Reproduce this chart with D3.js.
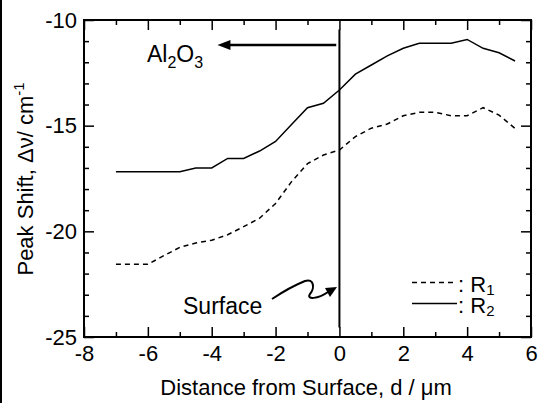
<!DOCTYPE html>
<html>
<head>
<meta charset="utf-8">
<script src="https://cdn.jsdelivr.net/npm/d3@7"></script>
<style>
  body { margin: 0; background: #fff; }
  svg { display: block; font-family: Arial, "Liberation Sans", sans-serif; }
</style>
</head>
<body>
<svg></svg>
<script>
// data
var depth = [-7, -6.5, -6, -5.5, -5, -4.5, -4, -3.5, -3, -2.5, -2, -1.5, -1, -0.5,
             0, 0.5, 1, 1.5, 2, 2.5, 3, 3.5, 4, 4.5, 5, 5.5];
var r1 = [-21.56, -21.56, -21.56, -21.15, -20.76, -20.55, -20.42, -20.16, -19.78, -19.38,
          -18.68, -17.65, -16.80, -16.39, -16.15, -15.52, -15.12, -14.92, -14.53, -14.37,
          -14.37, -14.53, -14.53, -14.15, -14.50, -15.13];
var r2 = [-17.18, -17.18, -17.18, -17.18, -17.18, -17.0, -17.0, -16.55, -16.55, -16.2,
          -15.75, -14.95, -14.15, -13.94, -13.31, -12.56, -12.13, -11.70, -11.34, -11.10,
          -11.10, -11.10, -10.92, -11.34, -11.55, -11.94];
var xMajor = [-8, -6, -4, -2, 0, 2, 4, 6];
var xMinor = [-7, -5, -3, -1, 1, 3, 5];
var yMajor = [-25, -20, -15, -10];
var yMinor = d3.range(-24, -10).filter(d => d % 5 !== 0);

var width = 539;
var height = 403;
var padL = 84, padR = 531, padT = 20, padB = 337;

var svg = d3.select('svg')
    .attr('width', width)
    .attr('height', height);

var xScale = d3.scaleLinear().domain([-8, 6]).range([padL, padR]);
var yScale = d3.scaleLinear().domain([-25, -10]).range([padB, padT]);

// left edge rule of the figure
svg.append('line')
    .attr('x1', 1).attr('x2', 1)
    .attr('y1', 0).attr('y2', height)
    .attr('stroke', '#000')
    .attr('stroke-width', 2);

// ticks, all pointing inward
function addAxis(axis, tx, ty) {
  var g = svg.append('g')
      .attr('transform', 'translate(' + tx + ',' + ty + ')')
      .call(axis);
  g.select('.domain').remove();
  g.selectAll('line').attr('stroke', '#000').attr('stroke-width', 1.5);
  g.attr('font-family', null).attr('font-size', null);
  return g;
}

var fmt = d => String(d);

addAxis(d3.axisBottom(xScale).tickValues(xMajor).tickSize(-10).tickPadding(8).tickFormat(fmt), 0, padB)
  .selectAll('text').style('font-size', '22px').attr('fill', '#000');
addAxis(d3.axisBottom(xScale).tickValues(xMinor).tickSize(-5).tickFormat(''), 0, padB);
addAxis(d3.axisTop(xScale).tickValues(xMajor).tickSize(-10).tickFormat(''), 0, padT);
addAxis(d3.axisTop(xScale).tickValues(xMinor).tickSize(-5).tickFormat(''), 0, padT);

addAxis(d3.axisLeft(yScale).tickValues(yMajor).tickSize(-10).tickPadding(7).tickFormat(fmt), padL, 0)
  .selectAll('text').style('font-size', '22px').attr('fill', '#000');
addAxis(d3.axisLeft(yScale).tickValues(yMinor).tickSize(-5).tickFormat(''), padL, 0);
addAxis(d3.axisRight(yScale).tickValues(yMajor).tickSize(-10).tickFormat(''), padR, 0);
addAxis(d3.axisRight(yScale).tickValues(yMinor).tickSize(-5).tickFormat(''), padR, 0);

// frame
svg.append('rect')
    .attr('x', padL).attr('y', padT)
    .attr('width', padR - padL).attr('height', padB - padT)
    .attr('fill', 'none')
    .attr('stroke', '#000')
    .attr('stroke-width', 2);

// series
var line = d3.line()
    .x(d => xScale(d[0]))
    .y(d => yScale(d[1]));

svg.append('path')
    .datum(depth.map((d, i) => [d, r1[i]]))
    .attr('d', line)
    .attr('fill', 'none')
    .attr('stroke', '#000')
    .attr('stroke-width', 1.5)
    .attr('stroke-dasharray', '5,4');

svg.append('path')
    .datum(depth.map((d, i) => [d, r2[i]]))
    .attr('d', line)
    .attr('fill', 'none')
    .attr('stroke', '#000')
    .attr('stroke-width', 1.5);

// surface line
svg.append('line')
    .attr('x1', xScale(0)).attr('x2', xScale(0))
    .attr('y1', yScale(-10.45)).attr('y2', yScale(-24.55))
    .attr('stroke', '#000')
    .attr('stroke-width', 2);

// Al2O3 arrow
var arrowY = yScale(-11.18);
svg.append('line')
    .attr('x1', xScale(-0.1)).attr('x2', xScale(-3.5))
    .attr('y1', arrowY).attr('y2', arrowY)
    .attr('stroke', '#000')
    .attr('stroke-width', 2.5);
svg.append('path')
    .attr('d', 'M' + xScale(-3.82) + ',' + arrowY + 'l13,-5l0,10z')
    .attr('fill', '#000');

var al = svg.append('text')
    .attr('x', 147)
    .attr('y', 62)
    .style('font-size', '23px');
al.append('tspan').text('Al');
al.append('tspan').attr('dy', 6).style('font-size', '16px').text('2');
al.append('tspan').attr('dy', -6).text('O');
al.append('tspan').attr('dy', 6).style('font-size', '16px').text('3');

// Surface annotation
svg.append('text')
    .attr('x', 183)
    .attr('y', 314)
    .style('font-size', '23px')
    .text('Surface');

svg.append('path')
    .attr('d', 'M272,299 Q290,287 305,281 C314,278 315,288 310,294 C306,300 318,299 328,292')
    .attr('fill', 'none')
    .attr('stroke', '#000')
    .attr('stroke-width', 2);
svg.append('path')
    .attr('d', 'M337,287 L325,288 L330,297 Z')
    .attr('fill', '#000');

// legend
var legend = [
  { label: '1', dash: '5,4', y: 282.5 },
  { label: '2', dash: null, y: 303.5 }
];
legend.forEach(function (l) {
  svg.append('line')
      .attr('x1', 412).attr('x2', 457)
      .attr('y1', l.y).attr('y2', l.y)
      .attr('stroke', '#000')
      .attr('stroke-width', 1.5)
      .attr('stroke-dasharray', l.dash);
  var t = svg.append('text')
      .attr('x', 458)
      .attr('y', l.y + 9)
      .style('font-size', '22px');
  t.append('tspan').text(': R');
  t.append('tspan').attr('dy', 3).style('font-size', '15px').text(l.label);
});

// axis titles
svg.append('text')
    .attr('x', 306)
    .attr('y', 395)
    .style('text-anchor', 'middle')
    .style('font-size', '22px')
    .text('Distance from Surface, d / \u03bcm');

var yt = svg.append('text')
    .attr('transform', 'translate(33,179) rotate(-90)')
    .style('text-anchor', 'middle')
    .style('font-size', '22px');
yt.append('tspan').text('Peak Shift, \u0394\u03bd/ cm');
yt.append('tspan').attr('dy', -9).style('font-size', '15px').text('-1');
</script>
</body>
</html>
